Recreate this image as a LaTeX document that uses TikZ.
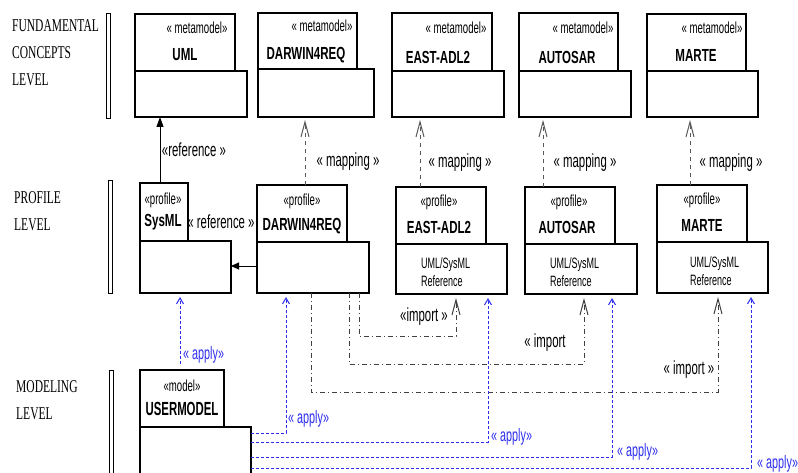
\documentclass[tikz,border=0pt]{standalone}
\usepackage{fontspec}
\newfontfamily\lblfont[FakeStretch=0.64]{Liberation Serif}
\newfontfamily\nfont[FakeStretch=0.66]{Liberation Sans}
\newfontfamily\lfont[FakeStretch=0.6]{Liberation Sans}
\usetikzlibrary{arrows.meta}
\definecolor{applyblue}{RGB}{45,45,240}
\begin{document}
\begin{tikzpicture}[x=1pt,y=-1pt,
 box/.style={draw, line width=1.1pt, fill=white, anchor=north west, inner sep=0pt, outer sep=0pt},
 lvl/.style={anchor=north west, inner sep=0pt, align=left, font={\lblfont\fontsize{18}{27}\selectfont}},
 bar/.style={draw, line width=0.9pt, anchor=north west, inner sep=0pt, outer sep=0pt, minimum width=4pt},
 stereo/.style={font={\lfont\fontsize{16}{18}\selectfont}, inner sep=0pt},
 bname/.style={font={\nfont\bfseries\fontsize{17.5}{20}\selectfont}, inner sep=0pt},
 reftxt/.style={font={\lfont\fontsize{15}{18}\selectfont}, inner sep=0pt, align=left, anchor=north west},
 lab/.style={font={\lfont\fontsize{19}{20}\selectfont}, inner sep=0pt},
 alab/.style={font={\lfont\fontsize{18}{19}\selectfont}, inner sep=0pt, text=applyblue, anchor=west},
 refarr/.style={draw, line width=0.9pt, -{Triangle[length=10pt,width=7pt]}},
 maparr/.style={draw=black!65, line width=1pt, dash pattern=on 4pt off 4pt, -{Straight Barb[length=15pt,width=8pt]}, shorten >=3pt},
 imparr/.style={draw=black!75, line width=1pt, dash pattern=on 5pt off 3pt on 1pt off 3pt, -{Straight Barb[length=15pt,width=8pt]}, shorten >=4pt},
 apparr/.style={draw=applyblue, line width=1pt, dash pattern=on 3pt off 2pt, -{Straight Barb[length=6pt,width=7pt]}, shorten >=4pt},
]
\useasboundingbox (0,0) rectangle (798,473);
\fill[white] (0,0) rectangle (798,473);

% level labels and bars
\node[lvl] (lfund) at (12,19) {FUNDAMENTAL\\CONCEPTS\\LEVEL};
\node[lvl] (lprof) at (14,191) {PROFILE\\LEVEL};
\node[lvl] (lmod) at (16,380) {MODELING\\LEVEL};
\node[bar, minimum height=105pt] (bfund) at (106,13) {};
\node[bar, minimum height=113pt] (bprof) at (108,180) {};
\node[bar, minimum height=110pt] (bmod) at (109,370) {};

% metamodel level
\node[box, minimum width=100pt, minimum height=57pt] (umlT) at (135,14) {};
\node[box, minimum width=112pt, minimum height=46pt] (umlB) at (135,71) {};
\node[stereo] (umlS) at (197,28) {« metamodel»};
\node[bname] (umlN) at (185,55) {UML};

\node[box, minimum width=99pt, minimum height=56pt] (d4mT) at (258,13) {};
\node[box, minimum width=116pt, minimum height=48pt] (d4mB) at (258,69) {};
\node[stereo] (d4mS) at (322,26) {« metamodel»};
\node[bname] (d4mN) at (306,55) {DARWIN4REQ};

\node[box, minimum width=100pt, minimum height=58pt] (eamT) at (392,13) {};
\node[box, minimum width=112pt, minimum height=46pt] (eamB) at (392,71) {};
\node[stereo] (eamS) at (456,28) {« metamodel»};
\node[bname] (eamN) at (438,57) {EAST-ADL2};

\node[box, minimum width=99pt, minimum height=58pt] (asmT) at (519,13) {};
\node[box, minimum width=112pt, minimum height=46pt] (asmB) at (519,71) {};
\node[stereo] (asmS) at (583,28) {« metamodel»};
\node[bname] (asmN) at (567,57) {AUTOSAR};

\node[box, minimum width=99pt, minimum height=57pt] (mamT) at (647,14) {};
\node[box, minimum width=111pt, minimum height=46pt] (mamB) at (647,71) {};
\node[stereo] (mamS) at (712,28) {« metamodel»};
\node[bname] (mamN) at (696,55) {MARTE};

% profile level
\node[box, minimum width=48pt, minimum height=58pt] (sysT) at (140,183) {};
\node[box, minimum width=91pt, minimum height=52pt] (sysB) at (140,241) {};
\node[stereo] (sysS) at (163,200) {«profile»};
\node[bname] (sysN) at (163,222) {SysML};

\node[box, minimum width=90pt, minimum height=57pt] (d4pT) at (257,185) {};
\node[box, minimum width=112pt, minimum height=51pt] (d4pB) at (257,242) {};
\node[stereo] (d4pS) at (302,201) {«profile»};
\node[bname] (d4pN) at (302,226) {DARWIN4REQ};

\node[box, minimum width=90pt, minimum height=57pt] (eapT) at (396,187) {};
\node[box, minimum width=111pt, minimum height=50pt] (eapB) at (396,244) {};
\node[stereo] (eapS) at (439,202) {«profile»};
\node[bname] (eapN) at (439,227) {EAST-ADL2};
\node[reftxt] (eapR) at (421,257) {UML/SysML\\Reference};

\node[box, minimum width=90pt, minimum height=57pt] (aspT) at (525,187) {};
\node[box, minimum width=112pt, minimum height=50pt] (aspB) at (525,244) {};
\node[stereo] (aspS) at (569,202) {«profile»};
\node[bname] (aspN) at (567,227) {AUTOSAR};
\node[reftxt] (aspR) at (550,257) {UML/SysML\\Reference};

\node[box, minimum width=90pt, minimum height=57pt] (mapT) at (657,185) {};
\node[box, minimum width=111pt, minimum height=51pt] (mapB) at (657,242) {};
\node[stereo] (mapS) at (702,200) {«profile»};
\node[bname] (mapN) at (702,225) {MARTE};
\node[reftxt] (mapR) at (690,256) {UML/SysML\\Reference};

% modeling level
\node[box, minimum width=84pt, minimum height=57pt] (umT) at (140,370) {};
\node[box, minimum width=111pt, minimum height=55pt] (umB) at (140,427) {};
\node[stereo] (umS) at (182,386) {«model»};
\node[bname, font={\lfont\bfseries\fontsize{19}{21}\selectfont}] (umN) at (182,409) {USERMODEL};

% reference
\coordinate (xr) at (160,0);
\draw[refarr] (sysT.north -| xr) -- (umlB.south -| xr);
\node[lab] (lref1) at (194,150) {«reference »};
\coordinate (yr) at (0,266);
\draw[refarr, -{Triangle[length=8pt,width=7pt]}] (d4pB.west |- yr) -- (sysB.east |- yr);
\node[lab] (lref2) at (221,222) {« reference »};

% mapping
\coordinate (xm1) at (305,0);
\coordinate (xm2) at (420,0);
\coordinate (xm3) at (543,0);
\coordinate (xm4) at (690,0);
\draw[maparr] (d4pT.north -| xm1) -- (d4mB.south -| xm1);
\draw[maparr] (eapT.north -| xm2) -- (eamB.south -| xm2);
\draw[maparr] (aspT.north -| xm3) -- (asmB.south -| xm3);
\draw[maparr] (mapT.north -| xm4) -- (mamB.south -| xm4);
\node[lab] (lm1) at (348,162) {« mapping »};
\node[lab] (lm2) at (460,163) {« mapping »};
\node[lab] (lm3) at (585,163) {« mapping »};
\node[lab] (lm4) at (731,163) {« mapping »};

% import
\coordinate (i1s) at (359,0); \coordinate (i1c) at (456,336);
\coordinate (i2s) at (349,0); \coordinate (i2c) at (584,364);
\coordinate (i3s) at (311,0); \coordinate (i3c) at (718,392);
\draw[imparr] (d4pB.south -| i1s) |- (i1c) -- (eapB.south -| i1c);
\draw[imparr] (d4pB.south -| i2s) |- (i2c) -- (aspB.south -| i2c);
\draw[imparr] (d4pB.south -| i3s) |- (i3c) -- (mapB.south -| i3c);
\node[lab] (li1) at (424,317) {«import »};
\node[lab] (li2) at (545,343) {« import};
\node[lab] (li3) at (689,370) {« import »};

% apply
\coordinate (a0) at (180,0);
\coordinate (a1) at (286,433);
\coordinate (a2) at (488,442);
\coordinate (a3) at (612,457);
\coordinate (a4) at (751,468);
\draw[apparr, shorten <=6pt] (umT.north -| a0) -- (sysB.south -| a0);
\draw[apparr] (umB.east |- a1) -| (d4pB.south -| a1);
\draw[apparr] (umB.east |- a2) -| (eapB.south -| a2);
\draw[apparr] (umB.east |- a3) -| (aspB.south -| a3);
\draw[apparr] (umB.east |- a4) -| (mapB.south -| a4);
\node[alab] (la0) at (183,355) {« apply»};
\node[alab] (la1) at (288,419) {« apply»};
\node[alab] (la2) at (491,437) {« apply»};
\node[alab] (la3) at (617,452) {« apply»};
\node[alab] (la4) at (757,464) {« apply»};
\end{tikzpicture}
\end{document}
